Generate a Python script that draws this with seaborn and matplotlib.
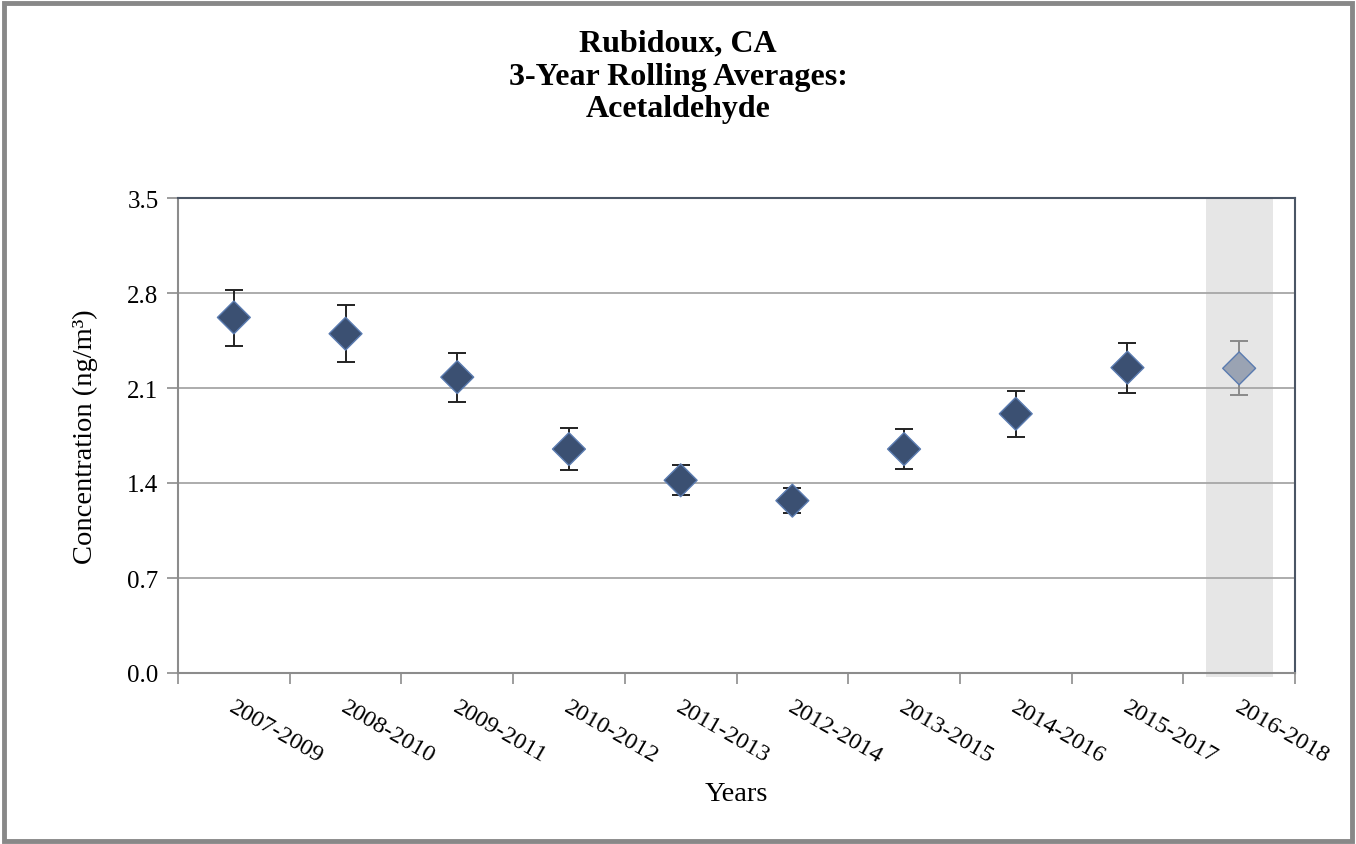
import matplotlib
matplotlib.use("Agg")
import matplotlib.pyplot as plt
import matplotlib.transforms as mtransforms
from matplotlib.patches import Rectangle
import seaborn as sns
import pandas as pd
import numpy as np

# ---- data ----
periods = ["2007-2009", "2008-2010", "2009-2011", "2010-2012", "2011-2013",
           "2012-2014", "2013-2015", "2014-2016", "2015-2017", "2016-2018"]
averages = [2.62, 2.50, 2.18, 1.65, 1.42, 1.27, 1.65, 1.91, 2.25, 2.245]
upper = [2.82, 2.71, 2.36, 1.805, 1.535, 1.363, 1.80, 2.078, 2.434, 2.444]
lower = [2.41, 2.29, 2.00, 1.496, 1.312, 1.177, 1.503, 1.739, 2.065, 2.046]
y_ticks = [0.0, 0.7, 1.4, 2.1, 2.8, 3.5]
title_lines = ["Rubidoux, CA", "3-Year Rolling Averages:", "Acetaldehyde"]

sns.set_theme(style="white")
plt.rcParams["font.family"] = ["Liberation Serif", "DejaVu Serif"]
plt.rcParams["text.color"] = "black"
plt.rcParams["axes.labelcolor"] = "black"
plt.rcParams["xtick.labelcolor"] = "black"
plt.rcParams["ytick.labelcolor"] = "black"

df = pd.DataFrame({"Years": periods, "Concentration": averages,
                   "upper": upper, "lower": lower})
df["status"] = ["final"] * (len(periods) - 1) + ["preliminary"]

fig = plt.figure(figsize=(13.56, 8.45), dpi=100)
ax = fig.add_axes([178 / 1356, 1 - 674 / 845, (1295 - 178) / 1356, (674 - 199) / 845])

n = len(periods)
pos = np.arange(n)

# shaded preliminary period
ax.add_patch(Rectangle((n - 1 - 0.3, -0.03), 0.6, 3.53, facecolor="#e6e6e6",
                       edgecolor="none", zorder=0.5, clip_on=False))

# gridlines
for yv in y_ticks[1:-1]:
    ax.axhline(yv, color="#a6a6a6", lw=1.3, zorder=1)

# error bars
err_lo = np.array(averages) - np.array(lower)
err_hi = np.array(upper) - np.array(averages)
for i in range(n):
    col = "#222222" if i < n - 1 else "#8a8a8a"
    ax.errorbar(pos[i], averages[i], yerr=[[err_lo[i]], [err_hi[i]]], fmt="none",
                ecolor=col, elinewidth=1.4, capsize=6.5, capthick=1.4, zorder=2)

sns.scatterplot(data=df, x="Years", y="Concentration", hue="status",
                palette={"final": "#3b5072", "preliminary": "#9aa3b3"},
                marker="D", s=280, edgecolor="#5a7bb0", linewidth=1.0,
                legend=False, ax=ax, zorder=3)

ax.set_xlim(-0.5, n - 0.5)
ax.set_ylim(0, 3.5)
ax.set_yticks(y_ticks)
ax.set_yticklabels([f"{v:.1f}" for v in y_ticks], fontsize=18)
ax.tick_params(axis="y", length=8, width=1.2, color="#8c8c8c", pad=6, left=True)

ax.set_xticks(pos)
ax.set_xticklabels(periods, fontsize=17.5, rotation=-30, ha="left",
                   va="center", rotation_mode="anchor")
ax.tick_params(axis="x", which="major", length=0, pad=23)
ax.set_xticks(np.arange(-0.5, n, 1.0), minor=True)
ax.tick_params(axis="x", which="minor", length=8, width=1.2, color="#8c8c8c",
               bottom=True, direction="out")
offset = mtransforms.ScaledTranslation(-3 / 100, 0, fig.dpi_scale_trans)
for lab in ax.get_xticklabels():
    lab.set_transform(lab.get_transform() + offset)

for side in ["left", "bottom"]:
    ax.spines[side].set_color("#8c8c8c")
    ax.spines[side].set_linewidth(1.5)
for side in ["top", "right"]:
    ax.spines[side].set_color("#4a5565")
    ax.spines[side].set_linewidth(1.5)

ax.set_xlabel("Years", fontsize=20.5, labelpad=0)
ax.xaxis.set_label_coords(0.5, -0.228)
ax.set_ylabel("Concentration (ng/m³)", fontsize=20.5)
ax.yaxis.set_label_coords(-0.072, 0.5)

fig.text(0.5, 1 - 77 / 845, "\n".join(title_lines), ha="center", va="center",
         fontsize=23, fontweight="bold", linespacing=1.17)

# outer border
fig.patches.append(Rectangle((0.003, 0.003), 0.994, 0.992, transform=fig.transFigure,
                             fill=False, edgecolor="#888888", linewidth=3.5))

fig.savefig("out.png", dpi=100)
